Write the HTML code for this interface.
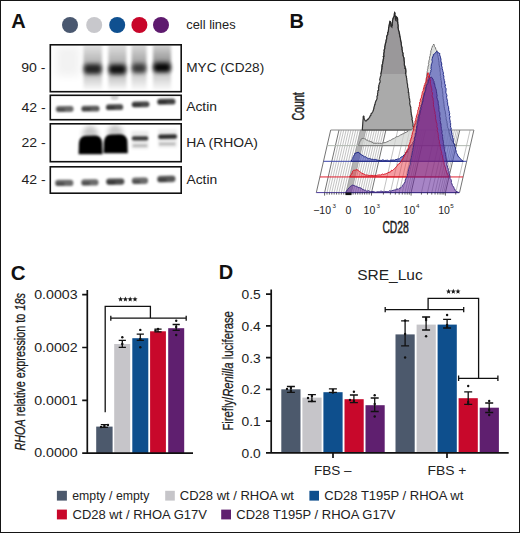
<!DOCTYPE html>
<html><head><meta charset="utf-8"><style>
html,body{margin:0;padding:0;background:#fff;}
body{width:520px;height:533px;overflow:hidden;}
svg{display:block;font-family:"Liberation Sans",sans-serif;}
</style></head><body>
<svg width="520" height="533" viewBox="0 0 520 533">
<defs>
<filter id="b1" x="-50%" y="-100%" width="200%" height="300%"><feGaussianBlur stdDeviation="1.2"/></filter>
<filter id="b2" x="-50%" y="-100%" width="200%" height="300%"><feGaussianBlur stdDeviation="2.5"/></filter>
<filter id="b3" x="-50%" y="-100%" width="200%" height="300%"><feGaussianBlur stdDeviation="4"/></filter>
<clipPath id="cb1"><rect x="51" y="45.5" width="129.5" height="45.5"/></clipPath>
<clipPath id="cb2"><rect x="51" y="96" width="129.5" height="23"/></clipPath>
<clipPath id="cb3"><rect x="51" y="124.5" width="129.5" height="36.5"/></clipPath>
<clipPath id="cb4"><rect x="51" y="167.5" width="129.5" height="25"/></clipPath>
</defs>
<rect x="0.5" y="0.5" width="519" height="532" fill="#fff" stroke="#151515" stroke-width="1"/>

<!-- ============ PANEL A ============ -->
<g id="panelA">
<text x="11.2" y="28.1" font-size="20" font-weight="bold" fill="#111">A</text>
<circle cx="70" cy="25" r="8" fill="#4a5870"/>
<circle cx="94.2" cy="25" r="8" fill="#c8c8cc"/>
<circle cx="117.2" cy="25" r="8" fill="#0f5090"/>
<circle cx="139.4" cy="25" r="8" fill="#c8062a"/>
<circle cx="161" cy="25" r="8" fill="#5e1a6e"/>
<text x="186.3" y="28.6" font-size="13" fill="#222" textLength="49.3" lengthAdjust="spacingAndGlyphs">cell lines</text>

<g font-size="12.5" fill="#222">
<text x="21.2" y="71.9" textLength="24.2" lengthAdjust="spacingAndGlyphs">90 -</text>
<text x="21.5" y="111.6" textLength="24.2" lengthAdjust="spacingAndGlyphs">42 -</text>
<text x="21.5" y="147.3" textLength="24.2" lengthAdjust="spacingAndGlyphs">22 -</text>
<text x="21.5" y="184.2" textLength="24.2" lengthAdjust="spacingAndGlyphs">42 -</text>
</g>
<g font-size="13" fill="#222">
<text x="186.2" y="72.2" textLength="78" lengthAdjust="spacingAndGlyphs">MYC (CD28)</text>
<text x="186.2" y="111.4" textLength="30.8" lengthAdjust="spacingAndGlyphs">Actin</text>
<text x="186.2" y="146.5" textLength="71.8" lengthAdjust="spacingAndGlyphs">HA (RHOA)</text>
<text x="186.4" y="183.6" textLength="30.8" lengthAdjust="spacingAndGlyphs">Actin</text>
</g>

<!--GENA-->
<defs><filter id="b12" x="-50%" y="-100%" width="200%" height="300%"><feGaussianBlur stdDeviation="1.3"/></filter><filter id="b15" x="-50%" y="-50%" width="200%" height="200%"><feGaussianBlur stdDeviation="1.6"/></filter><filter id="b17" x="-50%" y="-100%" width="200%" height="300%"><feGaussianBlur stdDeviation="1.9"/></filter><linearGradient id="mg0" x1="0" y1="0" x2="0" y2="1"><stop offset="0" stop-color="#000" stop-opacity="0.1"/><stop offset="0.410" stop-color="#000" stop-opacity="0.3"/><stop offset="0.686" stop-color="#000" stop-opacity="0.22"/><stop offset="1" stop-color="#000" stop-opacity="0.02"/></linearGradient><linearGradient id="mg1" x1="0" y1="0" x2="0" y2="1"><stop offset="0" stop-color="#000" stop-opacity="0.12"/><stop offset="0.419" stop-color="#000" stop-opacity="0.32"/><stop offset="0.690" stop-color="#000" stop-opacity="0.25"/><stop offset="1" stop-color="#000" stop-opacity="0.02"/></linearGradient><linearGradient id="mg2" x1="0" y1="0" x2="0" y2="1"><stop offset="0" stop-color="#000" stop-opacity="0.14"/><stop offset="0.405" stop-color="#000" stop-opacity="0.36"/><stop offset="0.662" stop-color="#000" stop-opacity="0.2"/><stop offset="1" stop-color="#000" stop-opacity="0.02"/></linearGradient><linearGradient id="mg3" x1="0" y1="0" x2="0" y2="1"><stop offset="0" stop-color="#000" stop-opacity="0.16"/><stop offset="0.381" stop-color="#000" stop-opacity="0.42"/><stop offset="0.643" stop-color="#000" stop-opacity="0.22"/><stop offset="1" stop-color="#000" stop-opacity="0.02"/></linearGradient></defs>
<g clip-path="url(#cb1)">
<rect x="56" y="46" width="24" height="30" fill="#000" opacity="0.05" filter="url(#b3)"/>
<rect x="83.5" y="44" width="18.5" height="46" fill="url(#mg0)" filter="url(#b15)"/>
<rect x="83.8" y="64.0" width="17.9" height="10.0" rx="4" fill="#000" opacity="0.8" filter="url(#b17)"/>
<rect x="108.4" y="44" width="18.0" height="46" fill="url(#mg1)" filter="url(#b15)"/>
<rect x="108.7" y="64.4" width="17.4" height="9.8" rx="4" fill="#000" opacity="0.9" filter="url(#b17)"/>
<rect x="131.5" y="44" width="15.0" height="46" fill="url(#mg2)" filter="url(#b15)"/>
<rect x="131.8" y="63.8" width="14.4" height="9.2" rx="4" fill="#000" opacity="0.68" filter="url(#b17)"/>
<rect x="153.0" y="44" width="18.0" height="46" fill="url(#mg3)" filter="url(#b15)"/>
<rect x="153.3" y="62.8" width="17.4" height="9.4" rx="4" fill="#000" opacity="0.96" filter="url(#b17)"/>
</g>
<g clip-path="url(#cb2)">
<ellipse cx="114.6" cy="97.5" rx="4" ry="2.5" fill="#000" opacity="0.18" filter="url(#b12)"/>
<g transform="rotate(-0.5 64.7 109.0)" filter="url(#b1)"><rect x="55.8" y="106.1" width="17.8" height="5.8" rx="2.9" fill="#000" opacity="0.59"/><rect x="56.4" y="108.4" width="8.6" height="3" rx="1.5" fill="#000" opacity="0.3"/></g>
<g transform="rotate(-0.5 90.5 108.7)" filter="url(#b1)"><rect x="81.3" y="105.8" width="18.3" height="5.8" rx="2.9" fill="#000" opacity="0.64"/><rect x="82.0" y="108.1" width="8.8" height="3" rx="1.5" fill="#000" opacity="0.3"/></g>
<g transform="rotate(-0.8 114.6 107.2)" filter="url(#b1)"><rect x="105.9" y="104.3" width="17.3" height="5.8" rx="2.9" fill="#000" opacity="0.70"/><rect x="106.5" y="106.6" width="8.3" height="3" rx="1.5" fill="#000" opacity="0.3"/></g>
<g transform="rotate(-1 140.6 104.3)" filter="url(#b1)"><rect x="131.7" y="101.4" width="17.8" height="5.8" rx="2.9" fill="#000" opacity="0.72"/><rect x="132.3" y="103.7" width="8.6" height="3" rx="1.5" fill="#000" opacity="0.3"/></g>
<g transform="rotate(-1 166.3 101.7)" filter="url(#b1)"><rect x="157.2" y="98.8" width="18.3" height="5.8" rx="2.9" fill="#000" opacity="0.75"/><rect x="157.8" y="101.1" width="8.8" height="3" rx="1.5" fill="#000" opacity="0.3"/></g>
</g>
<g clip-path="url(#cb3)">
<path d="M82 137 Q83 126 90 125.5 Q97 126 99 137Z" fill="#000" opacity="0.22" filter="url(#b2)"/>
<path d="M107 136 Q108 125 115 124.5 Q122 125 124 136Z" fill="#000" opacity="0.22" filter="url(#b2)"/>
<rect x="131.5" y="131" width="17" height="18" fill="#000" opacity="0.08" filter="url(#b15)"/>
<rect x="158" y="129.5" width="19" height="18" fill="#000" opacity="0.08" filter="url(#b15)"/>
<g filter="url(#b1)" fill="#000">
<path d="M78.6 154.2 L78.9 143 Q79.5 136.2 86 135.8 L95 135.6 Q101.8 136 102.2 143 L102.5 154.2 Z"/>
<path d="M103.6 153.2 L103.9 142 Q104.5 134.8 111 134.4 L120 134.2 Q127 134.6 127.4 141.5 L127.8 153.2 Z"/>
</g><g filter="url(#b12)" fill="#000">
<rect x="131.8" y="136.2" width="16.5" height="4.4" rx="2" opacity="0.75"/>
<rect x="132.5" y="144.6" width="15" height="2.4" rx="1" opacity="0.22"/>
<rect x="158.2" y="134.4" width="18.8" height="4.4" rx="2" opacity="0.8" transform="rotate(-1 167 136.5)"/>
<rect x="159" y="142.8" width="16.5" height="2.4" rx="1" opacity="0.22"/>
</g></g>
<g clip-path="url(#cb4)">
<g transform="rotate(0 64.3 182.9)" filter="url(#b1)"><rect x="55.1" y="179.7" width="18.3" height="6.4" rx="3.2" fill="#000" opacity="0.58"/><rect x="55.8" y="182.5" width="8.8" height="3.2" rx="1.6" fill="#000" opacity="0.3"/></g>
<g transform="rotate(-0.5 89.9 182.4)" filter="url(#b1)"><rect x="81.2" y="179.2" width="17.3" height="6.4" rx="3.2" fill="#000" opacity="0.58"/><rect x="81.9" y="182.0" width="8.3" height="3.2" rx="1.6" fill="#000" opacity="0.3"/></g>
<g transform="rotate(-0.5 115.3 181.6)" filter="url(#b1)"><rect x="106.1" y="178.4" width="18.3" height="6.4" rx="3.2" fill="#000" opacity="0.70"/><rect x="106.8" y="181.2" width="8.8" height="3.2" rx="1.6" fill="#000" opacity="0.3"/></g>
<g transform="rotate(-0.8 140.0 180.8)" filter="url(#b1)"><rect x="131.8" y="177.6" width="16.3" height="6.4" rx="3.2" fill="#000" opacity="0.58"/><rect x="132.4" y="180.4" width="7.9" height="3.2" rx="1.6" fill="#000" opacity="0.3"/></g>
<g transform="rotate(-1.5 166.3 179.0)" filter="url(#b1)"><rect x="157.2" y="175.8" width="18.3" height="6.4" rx="3.2" fill="#000" opacity="0.66"/><rect x="157.8" y="178.6" width="8.8" height="3.2" rx="1.6" fill="#000" opacity="0.3"/></g>
</g>
<!--/GENA-->
<g fill="none" stroke="#111" stroke-width="1.6">
<rect x="50.3" y="44.8" width="130.9" height="46.9"/>
<rect x="50.3" y="95.3" width="130.9" height="24.4"/>
<rect x="50.3" y="123.8" width="130.9" height="37.9"/>
<rect x="50.3" y="166.8" width="130.9" height="26.4"/>
</g>
</g>

<!-- ============ PANEL B ============ -->
<g id="panelB">
<text x="289.6" y="28.1" font-size="20" font-weight="bold" fill="#111">B</text>
<!--GENB-->
<path d="M341.39 130.0L326.99 192.6M343.78 130.0L329.38 192.6M346.17 130.0L331.77 192.6M348.56 130.0L334.16 192.6M350.95 130.0L336.55 192.6M353.34 130.0L338.94 192.6M355.73 130.0L341.33 192.6M358.12 130.0L343.72 192.6M360.51 130.0L346.11 192.6M365.20 130.0L350.80 192.6M367.50 130.0L353.10 192.6M369.80 130.0L355.40 192.6M372.10 130.0L357.70 192.6M374.40 130.0L360.00 192.6M376.70 130.0L362.30 192.6M379.00 130.0L364.60 192.6M381.30 130.0L366.90 192.6M383.60 130.0L369.20 192.6M397.82 130.0L383.42 192.6M404.79 130.0L390.39 192.6M409.74 130.0L395.34 192.6M413.58 130.0L399.18 192.6M416.71 130.0L402.31 192.6M419.37 130.0L404.97 192.6M421.66 130.0L407.26 192.6M423.69 130.0L409.29 192.6M435.83 130.0L421.43 192.6M441.87 130.0L427.47 192.6M446.15 130.0L431.75 192.6M449.47 130.0L435.07 192.6M452.19 130.0L437.79 192.6M454.49 130.0L440.09 192.6M456.48 130.0L442.08 192.6M458.23 130.0L443.83 192.6M470.13 130.0L455.73 192.6" stroke="#9a9a9a" stroke-width="0.6" fill="none"/>
<path d="M339.00 130.0L324.60 192.6M385.90 130.0L371.50 192.6M425.50 130.0L411.10 192.6M459.80 130.0L445.40 192.6M330.70 130.0L316.30 192.6M473.90 130.0L459.50 192.6" stroke="#505050" stroke-width="0.8" fill="none"/>
<path d="M360.4 130.0L365.9 130.0L351.5 192.6L346 192.6Z" fill="#b4b4b4" stroke="#8a8a8a" stroke-width="0.5"/>
<path d="M330.70 130.0H473.90" stroke="#888888" stroke-width="1" fill="none"/>
<path d="M362.30 130.00 L362.37 129.00 L362.44 128.00 L362.51 127.00 L362.58 126.00 L362.65 125.00 L362.72 124.00 L362.79 123.00 L362.86 122.00 L362.93 121.00 L363.00 120.00 L363.16 118.69 L363.32 117.84 L363.06 117.15 L363.50 116.00 L364.08 116.58 L363.98 118.04 L364.50 119.50 L365.23 120.79 L366.00 120.90 L366.73 120.58 L367.25 119.62 L368.51 118.89 L369.00 118.00 L369.77 117.03 L369.89 116.21 L370.87 115.31 L371.06 113.76 L372.00 113.00 L372.34 112.44 L372.99 111.26 L373.37 110.26 L373.65 108.87 L374.10 107.93 L373.85 107.45 L374.50 106.00 L374.57 104.56 L375.01 104.56 L375.19 103.15 L375.53 102.01 L375.95 100.82 L376.46 100.10 L376.75 99.22 L377.08 98.43 L377.00 97.00 L376.94 96.21 L377.69 95.43 L377.59 94.49 L377.51 93.26 L377.95 92.40 L377.76 90.74 L378.60 90.42 L378.65 88.51 L378.36 87.89 L378.98 86.75 L378.64 86.45 L378.82 85.14 L379.20 84.26 L379.50 83.00 L380.01 82.46 L380.18 81.01 L379.68 79.77 L379.81 79.12 L380.24 77.64 L380.22 77.13 L380.90 75.45 L381.12 74.78 L380.87 74.48 L381.13 72.95 L381.35 72.17 L381.52 71.07 L381.60 70.00 L381.78 69.53 L382.10 67.92 L381.97 66.69 L382.30 66.57 L382.10 65.06 L382.68 63.90 L382.87 62.42 L382.64 62.16 L383.11 61.15 L383.30 60.00 L383.31 59.22 L383.71 58.25 L383.34 56.43 L384.11 56.21 L383.86 54.70 L383.88 54.11 L383.99 52.84 L384.31 51.84 L384.28 50.76 L384.14 50.33 L384.60 49.00 L384.97 48.08 L384.80 46.77 L385.01 46.36 L385.35 44.62 L385.31 44.24 L385.68 42.79 L385.96 42.40 L386.20 41.00 L386.16 40.43 L386.71 38.80 L386.76 38.46 L386.73 36.67 L386.98 36.04 L387.40 35.00 L387.89 34.32 L387.74 32.52 L388.25 32.22 L388.40 30.80 L388.49 29.97 L388.65 27.96 L388.84 27.55 L389.20 26.00 L389.34 24.69 L389.53 23.65 L389.55 23.13 L390.00 21.50 L390.52 22.03 L390.75 24.21 L390.92 24.80 L390.80 26.00 L391.80 27.00 L391.76 26.51 L392.36 25.29 L392.29 24.20 L392.33 22.75 L392.60 22.00 L392.51 20.55 L392.90 19.86 L392.95 19.00 L393.50 17.50 L393.91 16.78 L394.34 15.61 L394.38 14.38 L394.60 12.70 L394.92 13.18 L394.74 14.43 L395.04 16.08 L395.48 16.84 L395.30 18.00 L395.35 19.13 L395.89 19.70 L395.80 21.00 L396.18 19.97 L395.93 18.82 L396.55 18.04 L396.50 17.00 L397.20 17.80 L397.51 18.44 L397.62 20.37 L397.15 21.29 L397.86 22.09 L397.54 22.43 L397.80 24.00 L397.97 24.86 L398.08 26.17 L397.89 27.73 L398.13 28.00 L398.24 29.22 L398.70 30.80 L399.17 32.40 L399.13 32.37 L399.22 33.68 L399.67 34.75 L399.68 36.07 L400.00 37.00 L400.08 37.63 L400.44 38.55 L400.51 40.26 L400.80 41.00 L400.72 41.54 L401.18 42.93 L401.16 44.46 L401.49 45.52 L401.46 46.12 L401.85 47.24 L401.99 48.18 L401.82 49.27 L402.29 50.40 L402.30 51.40 L402.45 51.96 L402.97 53.46 L402.81 55.15 L403.31 56.18 L403.27 56.49 L403.73 57.40 L403.98 59.12 L403.90 60.00 L404.18 61.35 L404.26 62.28 L404.43 62.52 L404.27 63.41 L404.36 65.33 L404.55 65.51 L405.00 67.00 L404.91 68.46 L405.52 68.43 L405.66 69.55 L405.79 71.21 L405.74 72.54 L405.48 73.36 L405.96 74.32 L405.81 75.26 L406.54 76.30 L406.24 76.47 L406.50 78.00 L406.89 79.08 L406.57 79.69 L407.03 80.70 L407.02 82.30 L407.18 82.84 L407.34 83.82 L407.55 84.50 L407.64 86.57 L407.61 87.30 L408.00 88.00 L408.31 89.23 L408.26 90.21 L408.48 90.98 L408.25 92.48 L408.80 92.52 L408.76 94.50 L409.03 94.93 L408.83 95.62 L409.19 96.64 L409.06 97.78 L409.70 99.23 L409.50 100.00 L409.77 100.76 L410.00 101.90 L409.71 103.10 L409.66 103.66 L410.04 104.98 L410.15 105.61 L410.57 106.79 L410.85 107.57 L410.70 108.98 L410.99 109.96 L410.92 111.39 L411.00 112.00 L411.31 112.98 L411.23 114.43 L411.78 115.28 L411.41 115.96 L411.91 116.68 L412.23 118.21 L411.86 119.42 L412.03 119.63 L412.50 120.62 L412.50 122.00 L412.97 123.43 L413.13 123.71 L413.00 124.78 L412.94 126.27 L413.67 126.51 L413.51 127.75 L413.80 129.00 L414.30 130.00 Z" fill="#aaaaaa" fill-opacity="1.0" stroke="#333333" stroke-width="1.2" stroke-linejoin="round"/>
<clipPath id="gtop"><rect x="300" y="0" width="200" height="74"/></clipPath>
<path d="M362.30 130.00 L362.37 129.00 L362.44 128.00 L362.51 127.00 L362.58 126.00 L362.65 125.00 L362.72 124.00 L362.79 123.00 L362.86 122.00 L362.93 121.00 L363.00 120.00 L363.16 118.69 L363.32 117.84 L363.06 117.15 L363.50 116.00 L364.08 116.58 L363.98 118.04 L364.50 119.50 L365.23 120.79 L366.00 120.90 L366.73 120.58 L367.25 119.62 L368.51 118.89 L369.00 118.00 L369.77 117.03 L369.89 116.21 L370.87 115.31 L371.06 113.76 L372.00 113.00 L372.34 112.44 L372.99 111.26 L373.37 110.26 L373.65 108.87 L374.10 107.93 L373.85 107.45 L374.50 106.00 L374.57 104.56 L375.01 104.56 L375.19 103.15 L375.53 102.01 L375.95 100.82 L376.46 100.10 L376.75 99.22 L377.08 98.43 L377.00 97.00 L376.94 96.21 L377.69 95.43 L377.59 94.49 L377.51 93.26 L377.95 92.40 L377.76 90.74 L378.60 90.42 L378.65 88.51 L378.36 87.89 L378.98 86.75 L378.64 86.45 L378.82 85.14 L379.20 84.26 L379.50 83.00 L380.01 82.46 L380.18 81.01 L379.68 79.77 L379.81 79.12 L380.24 77.64 L380.22 77.13 L380.90 75.45 L381.12 74.78 L380.87 74.48 L381.13 72.95 L381.35 72.17 L381.52 71.07 L381.60 70.00 L381.78 69.53 L382.10 67.92 L381.97 66.69 L382.30 66.57 L382.10 65.06 L382.68 63.90 L382.87 62.42 L382.64 62.16 L383.11 61.15 L383.30 60.00 L383.31 59.22 L383.71 58.25 L383.34 56.43 L384.11 56.21 L383.86 54.70 L383.88 54.11 L383.99 52.84 L384.31 51.84 L384.28 50.76 L384.14 50.33 L384.60 49.00 L384.97 48.08 L384.80 46.77 L385.01 46.36 L385.35 44.62 L385.31 44.24 L385.68 42.79 L385.96 42.40 L386.20 41.00 L386.16 40.43 L386.71 38.80 L386.76 38.46 L386.73 36.67 L386.98 36.04 L387.40 35.00 L387.89 34.32 L387.74 32.52 L388.25 32.22 L388.40 30.80 L388.49 29.97 L388.65 27.96 L388.84 27.55 L389.20 26.00 L389.34 24.69 L389.53 23.65 L389.55 23.13 L390.00 21.50 L390.52 22.03 L390.75 24.21 L390.92 24.80 L390.80 26.00 L391.80 27.00 L391.76 26.51 L392.36 25.29 L392.29 24.20 L392.33 22.75 L392.60 22.00 L392.51 20.55 L392.90 19.86 L392.95 19.00 L393.50 17.50 L393.91 16.78 L394.34 15.61 L394.38 14.38 L394.60 12.70 L394.92 13.18 L394.74 14.43 L395.04 16.08 L395.48 16.84 L395.30 18.00 L395.35 19.13 L395.89 19.70 L395.80 21.00 L396.18 19.97 L395.93 18.82 L396.55 18.04 L396.50 17.00 L397.20 17.80 L397.51 18.44 L397.62 20.37 L397.15 21.29 L397.86 22.09 L397.54 22.43 L397.80 24.00 L397.97 24.86 L398.08 26.17 L397.89 27.73 L398.13 28.00 L398.24 29.22 L398.70 30.80 L399.17 32.40 L399.13 32.37 L399.22 33.68 L399.67 34.75 L399.68 36.07 L400.00 37.00 L400.08 37.63 L400.44 38.55 L400.51 40.26 L400.80 41.00 L400.72 41.54 L401.18 42.93 L401.16 44.46 L401.49 45.52 L401.46 46.12 L401.85 47.24 L401.99 48.18 L401.82 49.27 L402.29 50.40 L402.30 51.40 L402.45 51.96 L402.97 53.46 L402.81 55.15 L403.31 56.18 L403.27 56.49 L403.73 57.40 L403.98 59.12 L403.90 60.00 L404.18 61.35 L404.26 62.28 L404.43 62.52 L404.27 63.41 L404.36 65.33 L404.55 65.51 L405.00 67.00 L404.91 68.46 L405.52 68.43 L405.66 69.55 L405.79 71.21 L405.74 72.54 L405.48 73.36 L405.96 74.32 L405.81 75.26 L406.54 76.30 L406.24 76.47 L406.50 78.00 L406.89 79.08 L406.57 79.69 L407.03 80.70 L407.02 82.30 L407.18 82.84 L407.34 83.82 L407.55 84.50 L407.64 86.57 L407.61 87.30 L408.00 88.00 L408.31 89.23 L408.26 90.21 L408.48 90.98 L408.25 92.48 L408.80 92.52 L408.76 94.50 L409.03 94.93 L408.83 95.62 L409.19 96.64 L409.06 97.78 L409.70 99.23 L409.50 100.00 L409.77 100.76 L410.00 101.90 L409.71 103.10 L409.66 103.66 L410.04 104.98 L410.15 105.61 L410.57 106.79 L410.85 107.57 L410.70 108.98 L410.99 109.96 L410.92 111.39 L411.00 112.00 L411.31 112.98 L411.23 114.43 L411.78 115.28 L411.41 115.96 L411.91 116.68 L412.23 118.21 L411.86 119.42 L412.03 119.63 L412.50 120.62 L412.50 122.00 L412.97 123.43 L413.13 123.71 L413.00 124.78 L412.94 126.27 L413.67 126.51 L413.51 127.75 L413.80 129.00 L414.30 130.00 Z" fill="#9a989a" clip-path="url(#gtop)" stroke="#2a2a2a" stroke-width="1.2"/>
<path d="M327.10 145.65H470.30" stroke="#b0b8b0" stroke-width="1" fill="none"/>
<path d="M358.50 145.65 L358.88 144.61 L359.25 143.57 L359.62 142.54 L360.00 141.50 L360.74 140.58 L361.17 139.01 L361.90 138.50 L363.75 138.40 L364.68 138.81 L365.68 139.06 L366.50 140.28 L367.50 140.30 L368.44 140.91 L369.93 141.21 L371.00 142.00 L372.23 141.89 L372.76 142.96 L373.92 143.27 L375.00 143.10 L376.27 143.45 L377.35 143.06 L378.54 143.49 L379.63 143.19 L380.60 143.50 L381.83 143.70 L382.63 143.02 L383.90 142.71 L385.23 142.68 L386.25 142.20 L387.00 141.80 L388.21 141.41 L389.31 140.48 L389.79 140.49 L390.74 140.30 L391.90 139.40 L392.97 138.76 L393.80 138.56 L394.67 138.15 L395.44 137.35 L396.70 136.64 L397.50 136.60 L398.46 136.38 L399.28 135.89 L400.23 134.94 L400.96 135.07 L402.01 134.23 L403.10 133.75 L403.96 133.56 L404.94 132.66 L406.11 132.40 L406.90 131.90 L408.03 131.28 L408.61 130.56 L409.44 130.07 L410.60 130.00 L411.70 129.61 L412.35 128.35 L413.50 128.00 L414.15 126.92 L414.65 126.32 L414.79 125.09 L415.32 123.90 L416.00 123.00 L416.35 122.03 L416.48 120.70 L416.66 120.28 L417.48 119.30 L417.49 118.45 L417.92 117.05 L418.47 116.13 L418.50 115.00 L418.63 114.19 L418.99 113.36 L419.39 112.10 L419.66 110.50 L419.75 110.16 L419.98 109.02 L420.27 107.69 L420.50 106.54 L420.72 106.15 L421.00 105.00 L421.50 104.07 L421.24 103.39 L421.76 102.29 L421.83 100.55 L421.88 99.73 L422.62 99.04 L422.81 97.82 L422.60 97.19 L423.11 96.36 L423.40 95.43 L423.50 94.00 L423.61 93.24 L424.18 92.31 L424.09 91.36 L424.32 90.26 L424.27 88.61 L424.57 87.58 L424.96 86.66 L425.19 86.20 L425.46 84.92 L425.56 83.80 L425.73 83.26 L426.00 82.00 L426.38 80.68 L426.21 80.22 L426.45 78.87 L426.41 78.10 L426.54 76.50 L426.64 76.28 L426.82 74.96 L426.95 73.71 L427.09 72.90 L427.19 71.53 L427.57 70.67 L427.43 69.56 L427.80 68.95 L428.00 68.00 L427.90 67.20 L428.27 65.90 L428.78 64.53 L428.42 63.72 L428.63 62.97 L428.91 62.12 L428.90 60.62 L429.20 60.23 L429.48 59.29 L429.55 58.43 L429.69 56.75 L430.00 56.00 L430.33 55.31 L430.26 53.84 L431.03 53.18 L430.70 52.09 L431.00 50.53 L431.50 50.00 L431.47 48.67 L432.09 47.55 L432.07 47.40 L432.50 46.00 L433.09 45.47 L433.70 44.00 L434.38 45.30 L434.29 46.44 L435.00 47.00 L435.56 47.80 L435.75 49.45 L436.50 50.00 L436.96 50.79 L436.93 51.61 L437.36 52.83 L437.30 54.43 L437.89 55.24 L438.03 56.34 L438.17 57.42 L438.50 58.00 L438.46 58.91 L438.74 60.28 L438.68 60.77 L439.06 62.22 L439.06 63.21 L439.04 63.99 L439.09 65.21 L439.66 65.97 L439.38 67.18 L439.96 67.74 L440.10 69.14 L440.00 70.00 L440.08 71.37 L440.36 72.40 L440.26 72.83 L440.38 73.57 L440.32 75.46 L440.43 76.07 L440.87 76.58 L440.62 77.74 L441.09 78.65 L440.82 80.09 L441.50 80.73 L441.37 81.72 L441.61 82.92 L441.73 84.10 L441.48 85.04 L441.53 85.68 L441.66 87.33 L442.00 88.00 L442.40 88.52 L442.49 89.70 L442.35 90.59 L442.70 91.72 L442.71 93.12 L442.97 94.26 L442.94 94.85 L442.77 95.95 L443.18 97.34 L443.07 98.31 L443.35 99.04 L443.25 100.23 L443.62 100.85 L443.78 101.57 L443.83 103.24 L444.06 104.15 L444.04 104.71 L444.15 106.50 L444.13 106.93 L444.50 108.00 L444.47 108.72 L444.97 110.43 L445.29 111.37 L445.43 112.11 L445.28 113.04 L445.74 114.45 L445.66 115.45 L445.78 116.27 L446.25 117.50 L446.43 117.79 L446.09 118.68 L446.38 120.22 L446.75 121.02 L446.98 121.54 L446.96 122.78 L447.31 123.84 L447.21 125.25 L447.50 126.00 L447.63 126.60 L447.75 127.91 L448.41 128.65 L448.79 130.20 L448.98 131.48 L448.80 131.87 L449.23 132.81 L449.53 134.03 L449.96 134.86 L449.98 135.79 L450.43 137.39 L450.50 138.00 L450.93 138.80 L451.37 140.31 L452.27 140.63 L452.63 142.04 L453.24 142.55 L454.00 144.00 L455.00 144.55 L456.00 145.10 L457.00 145.65 Z" fill="#d0d2d0" fill-opacity="0.72" stroke="#707070" stroke-width="0.95" stroke-linejoin="round"/>
<path d="M323.50 161.3H466.70" stroke="#3a44a8" stroke-width="1" fill="none"/>
<path d="M351.20 161.30 L351.60 160.00 L352.04 159.38 L352.77 158.67 L353.00 157.00 L353.36 156.42 L354.50 154.50 L354.84 153.31 L356.00 153.00 L356.91 152.56 L358.10 152.30 L359.09 152.52 L360.00 154.00 L360.79 154.08 L361.90 155.30 L363.02 155.45 L363.43 156.19 L364.50 156.80 L365.44 156.59 L366.65 157.85 L367.50 158.10 L368.88 158.95 L369.44 158.30 L371.12 159.29 L372.00 159.20 L373.50 159.41 L374.26 159.67 L375.27 159.34 L376.90 160.00 L378.27 160.24 L378.95 160.66 L380.38 160.37 L381.14 160.62 L382.11 160.10 L382.87 159.81 L384.59 160.57 L385.13 160.42 L386.25 160.40 L387.36 160.15 L388.51 160.74 L389.41 160.92 L390.87 159.98 L392.00 160.20 L393.29 159.93 L394.36 160.36 L394.61 159.91 L396.00 159.60 L397.04 159.38 L397.82 158.93 L399.35 158.92 L400.00 158.30 L400.96 157.08 L401.65 156.80 L402.85 156.87 L403.02 155.86 L404.10 155.00 L404.52 154.76 L405.74 153.17 L405.96 152.24 L407.21 152.30 L407.43 150.58 L408.20 150.00 L408.55 148.69 L409.92 147.65 L409.95 146.41 L410.49 145.58 L411.50 145.00 L412.23 144.14 L412.66 143.67 L412.66 142.74 L413.60 141.40 L414.33 140.04 L414.09 138.68 L414.43 138.20 L414.59 137.24 L415.70 135.74 L416.00 134.56 L416.00 134.00 L416.61 132.55 L416.52 132.24 L416.23 130.50 L416.53 130.36 L417.27 128.57 L416.82 128.52 L417.43 127.65 L417.27 125.84 L418.21 124.85 L417.69 123.69 L417.89 122.50 L418.75 121.79 L418.34 120.41 L419.22 120.62 L418.79 119.67 L419.58 117.80 L419.57 116.98 L419.20 115.74 L420.01 114.78 L420.00 114.00 L420.27 113.39 L420.45 111.95 L420.66 110.92 L420.59 110.47 L421.42 109.13 L420.99 108.49 L421.76 107.65 L421.49 105.54 L421.52 104.58 L422.03 104.67 L421.99 103.52 L422.84 101.32 L423.15 101.41 L422.97 100.26 L422.82 99.37 L423.32 98.06 L423.66 96.50 L423.79 95.75 L424.00 95.00 L424.08 93.82 L424.56 92.80 L425.07 92.67 L425.22 91.51 L425.58 89.70 L425.10 88.68 L425.84 88.00 L426.00 86.78 L426.51 85.70 L426.33 84.93 L426.90 84.04 L426.85 83.68 L427.16 81.92 L427.23 80.40 L427.76 80.49 L428.06 78.38 L428.00 78.00 L428.80 76.91 L428.56 75.96 L429.52 75.28 L429.91 74.19 L429.88 73.65 L430.40 72.15 L430.80 71.50 L430.81 70.32 L431.36 69.64 L430.87 68.51 L431.18 66.97 L431.10 66.48 L431.38 64.70 L431.25 63.95 L432.13 63.27 L432.09 62.23 L432.30 61.60 L432.09 60.69 L431.94 59.33 L432.28 58.57 L432.50 57.00 L433.33 55.97 L433.24 54.70 L434.00 54.00 L434.83 53.70 L435.50 52.50 L437.00 51.30 L437.35 51.57 L438.50 53.00 L439.90 53.50 L439.67 54.38 L440.00 56.13 L440.36 56.43 L440.58 57.85 L440.95 59.10 L441.00 60.00 L440.80 60.94 L441.44 62.72 L441.36 62.49 L441.96 64.46 L441.28 64.52 L441.76 66.12 L442.24 67.73 L442.10 68.20 L442.22 68.96 L442.80 70.32 L442.58 70.78 L442.97 71.62 L443.41 72.54 L443.30 74.23 L443.20 74.62 L443.91 76.16 L443.80 77.20 L443.79 78.29 L444.27 79.95 L444.06 80.36 L444.81 81.07 L444.67 81.88 L444.69 83.60 L445.33 84.85 L445.35 86.01 L444.95 86.13 L445.33 87.49 L445.97 88.19 L446.10 89.26 L446.00 90.70 L445.81 92.35 L446.18 93.35 L446.14 93.40 L446.53 94.19 L446.96 95.70 L446.43 97.37 L446.84 97.80 L446.86 98.52 L447.20 100.00 L447.53 100.67 L447.21 101.78 L447.65 102.61 L447.65 104.09 L447.79 105.28 L448.29 106.24 L448.58 106.55 L448.57 107.85 L448.81 109.14 L448.49 109.92 L449.34 111.40 L449.20 112.00 L449.37 113.00 L449.75 113.70 L449.28 115.30 L450.03 116.49 L450.15 116.84 L449.57 118.05 L449.81 119.39 L450.12 120.42 L450.18 120.56 L450.24 122.61 L450.67 123.18 L450.46 124.07 L450.85 125.27 L450.34 125.75 L450.83 127.54 L451.22 127.91 L451.00 129.20 L451.25 130.77 L451.71 131.96 L451.47 132.65 L452.01 132.66 L451.95 134.71 L452.34 135.38 L452.67 136.10 L452.62 137.57 L452.97 137.97 L453.33 139.30 L453.27 140.13 L453.49 141.20 L453.46 142.77 L454.00 143.70 L454.31 144.11 L454.64 145.34 L454.62 146.32 L455.64 147.87 L455.61 149.37 L455.56 149.74 L456.08 150.60 L456.24 152.56 L456.86 153.60 L457.20 154.00 L457.56 154.81 L458.06 156.45 L458.89 156.80 L459.21 157.18 L460.00 158.50 L460.82 159.20 L461.65 159.90 L462.48 160.60 L463.30 161.30 Z" fill="#3a44b4" fill-opacity="0.58" stroke="#1a2480" stroke-width="0.95" stroke-linejoin="round"/>
<path d="M319.90 176.95H463.10" stroke="#e02030" stroke-width="1" fill="none"/>
<path d="M349.80 176.95 L350.40 175.72 L351.00 174.50 L351.71 174.02 L352.29 172.65 L352.50 171.30 L353.65 170.27 L354.50 170.20 L355.45 170.15 L356.80 169.50 L357.99 170.20 L358.50 171.00 L359.54 171.42 L360.32 171.85 L361.06 172.60 L361.90 173.50 L363.47 173.85 L364.50 174.50 L365.50 174.96 L366.45 175.06 L367.50 175.00 L368.45 175.55 L369.80 175.41 L370.53 175.41 L372.08 175.32 L373.10 175.90 L374.43 175.37 L375.71 175.55 L376.68 175.78 L377.33 175.03 L378.80 175.00 L380.10 174.89 L380.83 175.15 L382.51 174.05 L383.27 174.57 L384.40 174.10 L385.27 174.01 L386.76 173.39 L387.52 173.08 L388.97 172.14 L390.00 172.20 L390.61 171.99 L391.45 170.26 L392.55 170.52 L393.50 169.50 L394.66 168.70 L394.93 168.13 L395.54 167.49 L396.70 166.50 L397.51 165.45 L397.70 164.54 L398.58 164.17 L399.08 163.93 L399.95 162.95 L400.70 161.80 L401.23 161.33 L401.71 160.33 L402.37 158.97 L402.86 158.83 L403.47 157.31 L404.10 156.80 L404.51 155.26 L405.21 154.77 L405.57 153.74 L405.92 151.99 L406.80 151.50 L406.92 150.31 L407.32 149.58 L407.90 148.81 L408.34 147.69 L408.46 146.53 L408.54 145.27 L409.20 144.50 L409.53 143.77 L410.17 141.85 L410.29 141.35 L410.26 140.09 L410.63 139.68 L411.20 138.00 L411.82 136.84 L411.71 135.55 L411.79 134.98 L412.17 134.51 L412.47 132.41 L412.89 131.41 L413.00 131.00 L413.54 130.38 L413.63 128.33 L413.73 127.58 L413.86 126.51 L414.34 125.25 L414.83 124.13 L415.08 123.02 L415.00 122.50 L414.96 121.13 L415.53 120.79 L415.77 119.82 L415.72 118.66 L416.29 117.71 L416.18 117.05 L416.92 114.98 L416.99 115.01 L417.30 113.50 L417.59 112.75 L417.76 111.37 L417.69 110.62 L418.45 109.27 L418.50 108.21 L418.66 107.21 L419.19 106.68 L419.24 106.05 L419.50 104.50 L419.64 103.14 L419.82 101.97 L420.34 101.60 L420.28 100.19 L420.54 99.02 L420.84 98.50 L421.32 97.96 L421.48 96.31 L421.95 94.95 L421.94 94.80 L422.12 93.77 L422.34 92.16 L422.87 91.14 L423.21 90.67 L423.30 89.50 L423.79 87.97 L423.81 87.37 L424.15 86.35 L424.42 84.94 L424.95 84.43 L424.88 83.70 L425.62 82.62 L426.05 81.36 L426.20 79.62 L426.30 79.00 L426.31 78.43 L427.19 77.01 L427.41 75.60 L427.39 75.29 L427.51 73.32 L428.00 72.70 L428.44 74.20 L428.96 74.68 L429.50 76.00 L429.49 77.51 L430.16 77.42 L429.92 78.78 L430.01 80.57 L430.61 80.50 L430.30 81.69 L430.47 83.53 L430.71 84.48 L431.00 85.00 L430.93 85.76 L431.31 87.05 L431.41 87.88 L431.78 88.76 L431.85 90.52 L431.49 91.38 L431.72 91.70 L432.40 92.59 L432.50 94.49 L432.06 95.07 L432.15 95.91 L432.43 97.49 L433.05 97.75 L433.17 98.64 L433.00 100.00 L433.27 100.77 L433.59 101.53 L433.34 102.88 L433.67 104.19 L433.48 104.70 L433.56 106.09 L433.94 107.45 L434.08 107.60 L434.22 108.54 L434.43 110.05 L434.50 110.80 L435.00 111.98 L435.14 112.93 L434.83 113.98 L435.50 114.60 L435.32 115.98 L435.80 117.02 L435.60 117.85 L435.50 118.84 L436.00 120.00 L436.13 121.05 L436.27 121.99 L436.61 122.97 L436.95 123.62 L437.01 124.54 L437.11 125.61 L436.75 126.71 L437.44 128.05 L437.62 129.41 L437.18 130.58 L437.37 130.85 L437.77 132.31 L438.16 133.29 L438.23 134.60 L438.28 135.45 L438.68 135.50 L438.25 136.51 L438.54 138.40 L438.51 139.19 L439.00 140.00 L439.36 140.65 L439.41 141.45 L439.39 143.52 L439.98 144.25 L440.19 145.14 L439.85 146.24 L440.43 146.63 L440.40 148.56 L440.53 149.10 L440.96 150.42 L441.32 151.03 L441.56 151.56 L441.86 153.36 L441.61 153.74 L442.00 155.00 L442.54 155.60 L442.42 156.93 L442.89 158.02 L442.88 158.78 L443.45 160.32 L443.19 160.76 L443.92 162.51 L443.93 163.11 L444.20 164.55 L444.21 164.66 L444.82 165.82 L445.00 167.00 L445.66 167.84 L445.64 169.18 L446.07 170.19 L446.33 171.14 L446.66 172.03 L447.00 173.00 L447.50 173.99 L448.00 174.97 L448.50 175.96 L449.00 176.95 Z" fill="#eb323c" fill-opacity="0.48" stroke="#d8101e" stroke-width="0.95" stroke-linejoin="round"/>
<path d="M316.30 192.6H459.50" stroke="#4a3a9a" stroke-width="1" fill="none"/>
<path d="M345.50 192.60 L345.90 191.90 L346.33 191.35 L347.20 190.00 L347.83 189.39 L348.75 188.10 L349.32 187.62 L350.50 186.30 L351.46 185.68 L352.50 185.10 L354.30 185.50 L355.06 186.13 L356.25 186.25 L356.90 186.48 L358.14 187.36 L359.00 187.80 L359.73 187.60 L361.26 188.24 L361.90 189.00 L363.25 189.55 L364.50 190.20 L365.61 190.21 L366.62 191.11 L367.50 191.00 L368.58 190.55 L369.42 191.29 L370.74 191.80 L372.00 191.60 L373.32 191.43 L374.45 191.85 L375.69 192.26 L376.90 191.90 L377.63 191.67 L378.88 191.87 L379.91 191.81 L380.72 191.13 L381.80 191.27 L383.19 192.06 L384.32 191.28 L384.90 191.71 L386.25 191.50 L387.20 191.62 L388.29 191.74 L389.52 190.70 L391.08 191.21 L392.00 190.60 L392.95 190.43 L394.55 189.98 L395.60 189.80 L397.04 188.84 L398.18 189.34 L399.00 188.50 L400.08 188.07 L400.83 187.74 L402.00 186.50 L402.35 185.39 L403.46 184.37 L404.05 183.39 L404.50 183.00 L405.16 181.88 L405.40 181.31 L405.32 180.41 L405.94 178.72 L406.54 177.92 L406.80 177.00 L407.23 176.46 L407.46 175.51 L407.58 173.83 L408.06 173.30 L407.98 171.84 L408.15 171.14 L408.60 170.00 L408.45 169.46 L409.01 168.18 L409.29 166.63 L409.78 165.97 L409.72 165.46 L410.15 164.45 L410.32 162.60 L410.30 162.00 L410.87 161.40 L410.65 160.31 L411.05 158.65 L411.34 157.65 L411.60 157.09 L411.43 155.83 L411.90 155.49 L412.00 154.00 L412.23 152.85 L412.48 151.92 L412.41 151.02 L413.03 150.58 L412.78 149.31 L413.29 147.63 L413.42 147.39 L413.50 146.00 L413.83 144.66 L413.74 144.03 L413.96 143.11 L414.35 142.18 L414.05 141.58 L414.82 140.09 L414.72 139.19 L414.50 138.42 L415.00 137.00 L415.24 136.35 L415.16 135.10 L415.18 134.14 L415.43 133.03 L415.97 132.52 L416.08 130.97 L416.07 129.86 L416.46 128.59 L416.54 128.32 L416.50 127.00 L416.92 125.50 L416.92 124.41 L416.75 123.99 L417.53 122.91 L417.31 122.15 L417.53 121.38 L417.75 120.48 L418.35 118.49 L418.20 118.00 L418.28 116.49 L418.45 116.33 L419.25 115.05 L419.14 114.11 L419.75 113.31 L419.87 112.10 L419.97 110.79 L420.30 110.00 L420.91 109.59 L420.63 107.40 L421.34 106.67 L421.16 105.64 L421.44 105.32 L421.92 104.57 L422.46 103.48 L422.50 102.00 L422.96 100.65 L422.80 99.90 L423.40 98.46 L423.36 98.07 L423.53 97.40 L423.70 95.93 L424.53 94.82 L424.50 94.00 L424.51 93.00 L425.12 91.68 L425.55 90.73 L425.79 89.47 L426.01 89.15 L425.72 87.83 L426.38 86.61 L426.26 85.43 L426.80 85.00 L427.47 84.34 L427.84 83.43 L428.27 82.07 L428.44 81.24 L428.80 80.00 L429.02 79.08 L429.75 77.84 L430.50 77.50 L431.50 77.00 L431.98 77.95 L433.00 79.00 L433.33 80.56 L433.84 81.29 L434.11 81.67 L433.94 83.55 L434.60 83.55 L434.88 85.47 L435.02 85.89 L435.03 86.54 L435.50 88.00 L435.85 88.90 L436.16 89.51 L436.37 90.44 L436.44 91.68 L436.71 93.38 L436.70 93.96 L436.97 94.75 L437.19 95.53 L436.77 97.11 L437.13 98.53 L437.27 98.48 L437.46 99.43 L438.15 101.25 L438.23 102.16 L438.30 103.39 L438.14 103.86 L438.50 105.00 L438.65 105.59 L438.91 106.64 L438.91 107.78 L439.06 109.06 L438.91 109.59 L439.00 111.23 L439.66 112.21 L439.77 112.87 L439.88 114.14 L439.86 115.03 L439.57 116.22 L439.97 117.02 L440.14 117.96 L440.36 119.49 L440.01 120.37 L440.47 121.24 L440.50 122.00 L440.28 123.53 L441.12 123.61 L441.06 124.85 L440.98 126.11 L441.24 126.93 L441.36 128.58 L441.33 129.35 L441.69 130.25 L442.02 131.29 L442.23 131.50 L441.85 133.13 L441.88 133.96 L442.55 134.68 L442.71 136.25 L442.30 136.59 L442.72 137.86 L442.72 139.25 L443.00 140.00 L443.23 141.28 L443.54 141.75 L443.57 142.49 L443.34 143.63 L443.85 144.97 L443.91 146.14 L444.37 147.52 L443.98 147.58 L444.44 149.55 L444.43 149.53 L444.60 151.24 L445.13 151.85 L445.28 152.82 L445.54 154.54 L445.50 155.00 L445.77 156.15 L445.96 156.77 L446.11 158.18 L446.41 158.99 L446.56 159.65 L446.26 161.57 L447.12 161.70 L447.18 162.50 L446.83 164.10 L446.96 165.16 L447.50 166.00 L447.57 167.42 L448.21 168.51 L448.07 168.56 L448.54 169.58 L448.26 170.51 L449.04 171.54 L449.00 173.00 L449.12 173.70 L449.54 174.94 L450.07 175.90 L449.98 176.81 L450.07 178.43 L450.50 179.00 L451.04 179.61 L451.38 180.78 L451.31 182.39 L451.41 182.80 L452.00 184.00 L452.46 185.57 L452.77 186.06 L453.77 187.05 L454.00 188.50 L454.71 188.99 L455.35 190.52 L456.00 191.30 L457.00 191.73 L458.00 192.17 L459.00 192.60 Z" fill="#5e2098" fill-opacity="0.55" stroke="#3a2a80" stroke-width="0.95" stroke-linejoin="round"/>
<path d="M326.99 192.6V194.6M329.38 192.6V194.6M331.77 192.6V194.6M334.16 192.6V194.6M336.55 192.6V194.6M338.94 192.6V194.6M341.33 192.6V194.6M343.72 192.6V194.6M346.11 192.6V194.6M350.80 192.6V194.6M353.10 192.6V194.6M355.40 192.6V194.6M357.70 192.6V194.6M360.00 192.6V194.6M362.30 192.6V194.6M364.60 192.6V194.6M366.90 192.6V194.6M369.20 192.6V194.6M383.42 192.6V194.6M390.39 192.6V194.6M395.34 192.6V194.6M399.18 192.6V194.6M402.31 192.6V194.6M404.97 192.6V194.6M407.26 192.6V194.6M409.29 192.6V194.6M421.43 192.6V194.6M427.47 192.6V194.6M431.75 192.6V194.6M435.07 192.6V194.6M437.79 192.6V194.6M440.09 192.6V194.6M442.08 192.6V194.6M443.83 192.6V194.6M455.73 192.6V194.6M324.60 192.6V195.6M371.50 192.6V195.6M411.10 192.6V195.6M445.40 192.6V195.6" stroke="#222" stroke-width="0.7" fill="none"/>
<rect x="345.5" y="192.6" width="6" height="2.5" fill="#111"/>
<!--/GENB-->
<text transform="translate(303.9 120.6) rotate(-90)" font-size="15.8" fill="#1a1a1a" stroke="#1a1a1a" stroke-width="0.45" textLength="28.4" lengthAdjust="spacingAndGlyphs">Count</text>
<g font-size="10.5" fill="#222">
<text x="313.2" y="213.9">−10</text><text x="332.6" y="207.8" font-size="6.2">3</text>
<text x="345.6" y="213.9">0</text>
<text x="363.6" y="213.9">10</text><text x="376.6" y="207.8" font-size="6.2">3</text>
<text x="403.6" y="213.9">10</text><text x="415.9" y="207.8" font-size="6.2">4</text>
<text x="438.2" y="213.9">10</text><text x="450.3" y="207.8" font-size="6.2">5</text>
</g>
<text x="382.4" y="233.2" font-size="15.6" fill="#1a1a1a" stroke="#1a1a1a" stroke-width="0.45" textLength="26.3" lengthAdjust="spacingAndGlyphs">CD28</text>
</g>

<!-- ============ PANEL C ============ -->
<g id="panelC">
<text x="10.8" y="279.8" font-size="20.5" font-weight="bold" fill="#111">C</text>

<g font-size="12.6" fill="#222">
<text x="34.2" y="298.7" textLength="43.4" lengthAdjust="spacingAndGlyphs">0.0003</text>
<text x="34.2" y="351.6" textLength="43.4" lengthAdjust="spacingAndGlyphs">0.0002</text>
<text x="34.2" y="404.5" textLength="43.4" lengthAdjust="spacingAndGlyphs">0.0001</text>
<text x="34.2" y="456.9" textLength="43.4" lengthAdjust="spacingAndGlyphs">0.0000</text>
</g>
<g fill="#1a1a1a"><polygon points="120.60,296.60 121.28,298.37 123.17,298.47 121.69,299.66 122.19,301.48 120.60,300.45 119.01,301.48 119.51,299.66 118.03,298.47 119.92,298.37"/><polygon points="125.40,296.60 126.08,298.37 127.97,298.47 126.49,299.66 126.99,301.48 125.40,300.45 123.81,301.48 124.31,299.66 122.83,298.47 124.72,298.37"/><polygon points="130.20,296.60 130.88,298.37 132.77,298.47 131.29,299.66 131.79,301.48 130.20,300.45 128.61,301.48 129.11,299.66 127.63,298.47 129.52,298.37"/><polygon points="135.00,296.60 135.68,298.37 137.57,298.47 136.09,299.66 136.59,301.48 135.00,300.45 133.41,301.48 133.91,299.66 132.43,298.47 134.32,298.37"/></g>
<text transform="translate(25.2 450.6) rotate(-90)" font-size="15.5" fill="#1a1a1a" stroke="#1a1a1a" stroke-width="0.3" textLength="157.5" lengthAdjust="spacingAndGlyphs"><tspan font-style="italic">RHOA</tspan> relative expression to <tspan font-style="italic">18s</tspan></text>
</g>

<!-- ============ PANEL D ============ -->
<g id="panelD">
<text x="218.8" y="279.2" font-size="20" font-weight="bold" fill="#111">D</text>

<text x="357.2" y="279.7" font-size="15" fill="#222" textLength="65.5" lengthAdjust="spacingAndGlyphs">SRE_Luc</text>
<g font-size="13.2" fill="#222">
<text x="241.6" y="299.0" textLength="19.2" lengthAdjust="spacingAndGlyphs">0.5</text>
<text x="241.6" y="330.7" textLength="19.2" lengthAdjust="spacingAndGlyphs">0.4</text>
<text x="241.6" y="362.5" textLength="19.2" lengthAdjust="spacingAndGlyphs">0.3</text>
<text x="241.6" y="394.2" textLength="19.2" lengthAdjust="spacingAndGlyphs">0.2</text>
<text x="241.6" y="426.0" textLength="19.2" lengthAdjust="spacingAndGlyphs">0.1</text>
<text x="241.6" y="457.7" textLength="19.2" lengthAdjust="spacingAndGlyphs">0.0</text>
</g>
<g font-size="13" fill="#222">
<text x="314.0" y="474.8" textLength="37.6" lengthAdjust="spacingAndGlyphs">FBS –</text>
<text x="427.5" y="474.8" textLength="39" lengthAdjust="spacingAndGlyphs">FBS +</text>
</g>
<g fill="#1a1a1a"><polygon points="448.60,288.80 449.28,290.57 451.17,290.67 449.69,291.86 450.19,293.68 448.60,292.65 447.01,293.68 447.51,291.86 446.03,290.67 447.92,290.57"/><polygon points="453.30,288.80 453.98,290.57 455.87,290.67 454.39,291.86 454.89,293.68 453.30,292.65 451.71,293.68 452.21,291.86 450.73,290.67 452.62,290.57"/><polygon points="458.00,288.80 458.68,290.57 460.57,290.67 459.09,291.86 459.59,293.68 458.00,292.65 456.41,293.68 456.91,291.86 455.43,290.67 457.32,290.57"/></g>
<text transform="translate(232.6 430.6) rotate(-90)" font-size="15.5" fill="#1a1a1a" stroke="#1a1a1a" stroke-width="0.3" textLength="119.5" lengthAdjust="spacingAndGlyphs">Firefly/<tspan font-style="italic">Renilla</tspan> luciferase</text>
</g>
<g id="panelC2"><rect x="96.2" y="426.6" width="16.4" height="26.4" fill="#4c596c"/><rect x="114.2" y="344.0" width="16.0" height="109.0" fill="#c6c5c9"/><rect x="132.3" y="338.2" width="16.0" height="114.8" fill="#0e4f8d"/><rect x="150.1" y="331.3" width="15.8" height="121.7" fill="#c8082b"/><rect x="168.2" y="328.2" width="16.0" height="124.8" fill="#5f1f6f"/><path d="M104.4 424.6V427.4M100.80000000000001 424.6H108.0M100.80000000000001 427.4H108.0" stroke="#111" stroke-width="1.3" fill="none"/><path d="M122.3 340.4V347.3M118.7 340.4H125.89999999999999M118.7 347.3H125.89999999999999" stroke="#111" stroke-width="1.3" fill="none"/><path d="M140.3 334.2V340.4M136.70000000000002 334.2H143.9M136.70000000000002 340.4H143.9" stroke="#111" stroke-width="1.3" fill="none"/><path d="M158.0 329.2V331.8M154.4 329.2H161.6M154.4 331.8H161.6" stroke="#111" stroke-width="1.3" fill="none"/><path d="M176.2 324.5V330.4M172.6 324.5H179.79999999999998M172.6 330.4H179.79999999999998" stroke="#111" stroke-width="1.3" fill="none"/><circle cx="104.4" cy="426" r="1.2" fill="#111"/><circle cx="101" cy="427" r="1.2" fill="#111"/><circle cx="108" cy="425" r="1.2" fill="#111"/><circle cx="122.3" cy="337.3" r="1.2" fill="#111"/><circle cx="122.3" cy="344" r="1.2" fill="#111"/><circle cx="140.3" cy="329.9" r="1.2" fill="#111"/><circle cx="140.3" cy="347.3" r="1.2" fill="#111"/><circle cx="140.3" cy="339" r="1.2" fill="#111"/><circle cx="158" cy="329" r="1.2" fill="#111"/><circle cx="155.5" cy="330.5" r="1.2" fill="#111"/><circle cx="176.2" cy="320.8" r="1.2" fill="#111"/><circle cx="176.2" cy="335" r="1.2" fill="#111"/><circle cx="176.2" cy="327" r="1.2" fill="#111"/><path d="M87.3 290V453.6M82.2 294.6H87.3M82.2 347.5H87.3M82.2 400.4H87.3M82.2 453.1H87.3M86.7 453.1H193" stroke="#111" stroke-width="1.7" fill="none"/><path d="M105.2 412.2V306.4H150.4V318.2M110.8 318.2H186.2M110.8 315.8V320.8M186.2 315.8V320.8" stroke="#111" stroke-width="1.3" fill="none"/></g>
<g id="panelD2"><rect x="281.3" y="389.3" width="19.2" height="63.5" fill="#4c596c"/><rect x="302.4" y="397.6" width="19.2" height="55.2" fill="#c6c5c9"/><rect x="323.4" y="392.2" width="19.2" height="60.6" fill="#0e4f8d"/><rect x="344.5" y="399.2" width="19.2" height="53.6" fill="#c8082b"/><rect x="365.5" y="405.2" width="19.2" height="47.6" fill="#5f1f6f"/><rect x="395.5" y="334.4" width="19.2" height="118.4" fill="#4c596c"/><rect x="416.6" y="324.6" width="19.2" height="128.2" fill="#c6c5c9"/><rect x="437.6" y="324.6" width="19.2" height="128.2" fill="#0e4f8d"/><rect x="458.6" y="398.2" width="19.2" height="54.6" fill="#c8082b"/><rect x="479.7" y="407.7" width="19.2" height="45.1" fill="#5f1f6f"/><path d="M290.9 386.5V392.3M286.9 386.5H294.9M286.9 392.3H294.9" stroke="#111" stroke-width="1.3" fill="none"/><path d="M311.9 394.6V401.5M307.9 394.6H315.9M307.9 401.5H315.9" stroke="#111" stroke-width="1.3" fill="none"/><path d="M332.9 388.8V392.3M328.9 388.8H336.9M328.9 392.3H336.9" stroke="#111" stroke-width="1.3" fill="none"/><path d="M353.9 395.0V402.7M349.9 395.0H357.9M349.9 402.7H357.9" stroke="#111" stroke-width="1.3" fill="none"/><path d="M374.7 398.0V411.5M370.7 398.0H378.7M370.7 411.5H378.7" stroke="#111" stroke-width="1.3" fill="none"/><path d="M405.1 320.8V345.8M401.1 320.8H409.1M401.1 345.8H409.1" stroke="#111" stroke-width="1.3" fill="none"/><path d="M426.1 317.0V330.0M422.1 317.0H430.1M422.1 330.0H430.1" stroke="#111" stroke-width="1.3" fill="none"/><path d="M447.1 319.3V328.0M443.1 319.3H451.1M443.1 328.0H451.1" stroke="#111" stroke-width="1.3" fill="none"/><path d="M468.2 391.8V404.4M464.2 391.8H472.2M464.2 404.4H472.2" stroke="#111" stroke-width="1.3" fill="none"/><path d="M489.2 403.0V412.5M485.2 403.0H493.2M485.2 412.5H493.2" stroke="#111" stroke-width="1.3" fill="none"/><circle cx="290.9" cy="388" r="1.2" fill="#111"/><circle cx="290.9" cy="391" r="1.2" fill="#111"/><circle cx="287" cy="389" r="1.2" fill="#111"/><circle cx="311.9" cy="396" r="1.2" fill="#111"/><circle cx="311.9" cy="401" r="1.2" fill="#111"/><circle cx="308" cy="398" r="1.2" fill="#111"/><circle cx="332.9" cy="390" r="1.2" fill="#111"/><circle cx="332.9" cy="392.5" r="1.2" fill="#111"/><circle cx="353.9" cy="391.8" r="1.2" fill="#111"/><circle cx="353.9" cy="401" r="1.2" fill="#111"/><circle cx="350" cy="400" r="1.2" fill="#111"/><circle cx="374.7" cy="395.3" r="1.2" fill="#111"/><circle cx="374.7" cy="416.5" r="1.2" fill="#111"/><circle cx="374.7" cy="404" r="1.2" fill="#111"/><circle cx="405.1" cy="357.5" r="1.2" fill="#111"/><circle cx="405.1" cy="320.5" r="1.2" fill="#111"/><circle cx="405.1" cy="334" r="1.2" fill="#111"/><circle cx="426.1" cy="336.3" r="1.2" fill="#111"/><circle cx="426.1" cy="318" r="1.2" fill="#111"/><circle cx="426.1" cy="320" r="1.2" fill="#111"/><circle cx="447.1" cy="315" r="1.2" fill="#111"/><circle cx="447.1" cy="327" r="1.2" fill="#111"/><circle cx="447.1" cy="325" r="1.2" fill="#111"/><circle cx="468.2" cy="386" r="1.2" fill="#111"/><circle cx="468.2" cy="404" r="1.2" fill="#111"/><circle cx="468.2" cy="402" r="1.2" fill="#111"/><circle cx="489.2" cy="401" r="1.2" fill="#111"/><circle cx="489.2" cy="415" r="1.2" fill="#111"/><circle cx="489.2" cy="410" r="1.2" fill="#111"/><path d="M271.2 289.6V453.5M266 294.1H271.2M266 325.8H271.2M266 357.6H271.2M266 389.3H271.2M266 421.1H271.2M266 452.8H271.2M270.5 452.8H508.7M333 452.8V458M447 452.8V458" stroke="#111" stroke-width="1.7" fill="none"/><path d="M385.2 309.6H463.7M385.2 306.9V312.3M463.7 306.9V312.3M428.1 309.6V298.4H478.6V378.3M458.6 378.3H497.9M458.6 375.6V381M497.9 375.6V381" stroke="#111" stroke-width="1.3" fill="none"/></g>

<!-- ============ LEGEND ============ -->
<g id="legend">
<rect x="56.9" y="490.8" width="10" height="9.8" fill="#4c596c"/>
<rect x="165.2" y="490.8" width="9.6" height="9.8" fill="#c6c5c9"/>
<rect x="309.4" y="490.8" width="9.6" height="9.8" fill="#0e4f8d"/>
<rect x="56.9" y="509.6" width="10" height="9.8" fill="#c8082b"/>
<rect x="221.2" y="509.6" width="9.8" height="9.8" fill="#5f1f6f"/>
<g font-size="13" fill="#222">
<text x="72.3" y="500.3" textLength="77" lengthAdjust="spacingAndGlyphs">empty / empty</text>
<text x="179.8" y="500.3">CD28 wt / RHOA wt</text>
<text x="324.3" y="500.3">CD28 T195P / RHOA wt</text>
<text x="72.5" y="518.8">CD28 wt / RHOA G17V</text>
<text x="236.3" y="518.8">CD28 T195P / RHOA G17V</text>
</g>
</g>
</svg>
</body></html>
